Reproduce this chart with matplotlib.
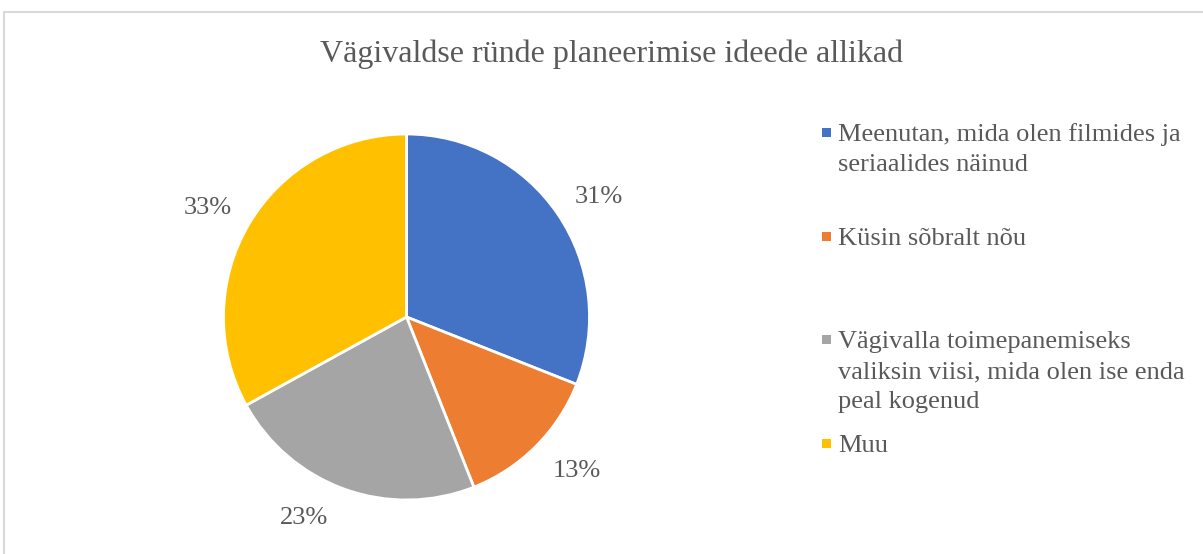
import numpy as np
import matplotlib
matplotlib.use("Agg")
import matplotlib.pyplot as plt
from matplotlib.patches import Rectangle

plt.rcParams['font.family'] = ['Liberation Serif', 'DejaVu Serif']

title = "Vägivaldse ründe planeerimise ideede allikad"
categories = [
    "Meenutan, mida olen filmides ja\nseriaalides näinud",
    "Küsin sõbralt nõu",
    "Vägivalla toimepanemiseks\nvaliksin viisi, mida olen ise enda\npeal kogenud",
    "Muu",
]
shares = [31, 13, 23, 33]
colors = ["#4472C4", "#ED7D31", "#A5A5A5", "#FFC000"]
text_color = "#595959"

W, H = 1203, 554
fig = plt.figure(figsize=(W / 100, H / 100), dpi=100)

# chart area border (cut off on right/bottom)
fig.patches.append(Rectangle((3.5 / W, -0.1), 1.2, 1.1 - 11.5 / H,
                             transform=fig.transFigure, fill=False,
                             edgecolor="#D9D9D9", linewidth=1.5))

cx, cy, r = 406.5, 554 - 317, 183
ax = fig.add_axes([(cx - r) / W, (cy - r) / H, 2 * r / W, 2 * r / H])
wedges, _ = ax.pie(
    shares, colors=colors, startangle=90, counterclock=False, radius=1,
    wedgeprops=dict(edgecolor="white", linewidth=2),
)

# "outside end" labels, placed next to the edge like Excel does
for w, v in zip(wedges, shares):
    th = np.deg2rad((w.theta1 + w.theta2) / 2)
    c, s = np.cos(th), np.sin(th)
    dx = np.sign(c) * 41 / r
    dy = np.sign(s) * (8 + 20 * abs(s)) / r
    ax.text(c + dx, s + dy, f"{v}%", ha="center", va="center_baseline",
            fontsize=19, color=text_color)

ax.set_xlim(-1, 1)
ax.set_ylim(-1, 1)
ax.set_aspect("equal")
ax.axis("off")

fig.text(612 / W, 1 - 62 / H, title, ha="center", va="baseline",
         fontsize=23, color=text_color)

# legend, laid out like the Excel one (first baseline of each entry, px)
leg_base = [141, 245, 348, 452]
for lab, col, yb in zip(categories, colors, leg_base):
    fig.patches.append(Rectangle((822 / W, 1 - (yb - 4) / H), 9 / W, 9 / H,
                                 transform=fig.transFigure, facecolor=col,
                                 edgecolor="none"))
    for i, line in enumerate(lab.split("\n")):
        fig.text(838 / W, 1 - (yb + 30 * i) / H, line, ha="left",
                 va="baseline", fontsize=19, color=text_color)

fig.savefig("out.png", dpi=100)
